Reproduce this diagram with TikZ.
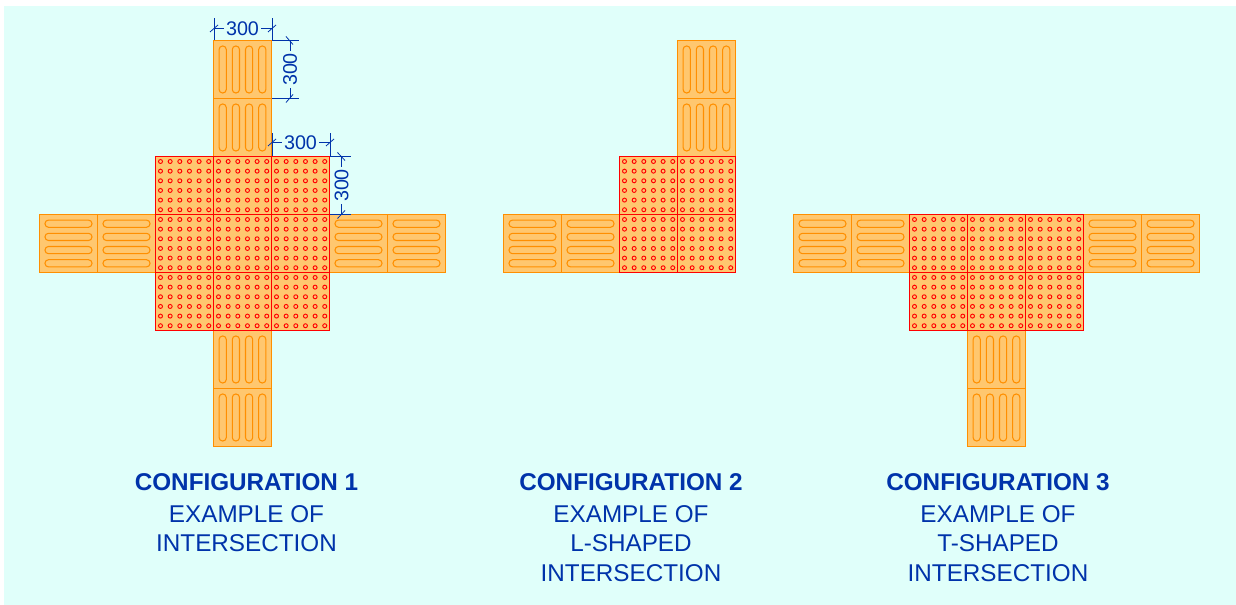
\documentclass[tikz,border=0pt]{standalone}
\usepackage{fontspec}
\setmainfont{Liberation Sans}

\definecolor{sheetcol}{HTML}{E0FFFA}
\definecolor{tilecol}{HTML}{FFC76F}
\definecolor{bandcol}{HTML}{FF8F00}
\definecolor{dotcol}{HTML}{FF0000}
\definecolor{dimcol}{HTML}{0033AA}

\tikzset{
  tilebox/.style={fill=tilecol, draw=bandcol, line width=0.75pt},
  warnbox/.style={fill=tilecol, draw=dotcol, line width=0.75pt},
  band/.style={draw=bandcol, line width=0.8pt, rounded corners=2.6pt},
  stud/.style={draw=dotcol, line width=0.7pt},
  dimline/.style={draw=dimcol, line width=0.6pt},
  dimtext/.style={text=dimcol, font=\fontsize{14.8}{16}\selectfont, inner sep=1.5pt},
  caption/.style={text=dimcol, align=center, anchor=north,
    font=\fontsize{18.2}{22}\selectfont},
  pics/hbars/.style={code={
    \draw[tilebox] (0,0) rectangle (58,58);
    \foreach \k in {9.2,22.4,35.6,48.8}
      \draw[band] (5.5,\k-3.6) rectangle (52.5,\k+3.6);
  }},
  pics/vbars/.style={code={
    \draw[tilebox] (0,0) rectangle (58,58);
    \foreach \k in {9.2,22.4,35.6,48.8}
      \draw[band] (\k-3.6,5.5) rectangle (\k+3.6,52.5);
  }},
  pics/studs/.style={code={
    \draw[warnbox] (0,0) rectangle (58,58);
    \foreach \i in {0,...,5}
      \foreach \j in {0,...,5}
        \draw[stud] (5+\i*9.65,5+\j*9.65) circle[radius=2];
  }},
}

\begin{document}
\begin{tikzpicture}[x=0.75pt, y=-0.75pt]
  \useasboundingbox (0,-0.5) rectangle (1236,604.5);
  \fill[sheetcol] (4,6) rectangle (1236,604.5);

  % configuration 1
  \foreach \px/\py in {40/214, 98/214, 330/214, 388/214}
    \pic at (\px-0.5,\py) {hbars};
  \foreach \px/\py in {214/40, 214/98, 214/330, 214/388}
    \pic at (\px-0.5,\py) {vbars};
  \foreach \px in {156,214,272}
    \foreach \py in {156,214,272}
      \pic at (\px-0.5,\py) {studs};

  % configuration 2
  \foreach \px/\py in {504/214, 562/214}
    \pic at (\px-0.5,\py) {hbars};
  \foreach \px/\py in {678/40, 678/98}
    \pic at (\px-0.5,\py) {vbars};
  \foreach \px/\py in {620/156, 678/156, 620/214, 678/214}
    \pic at (\px-0.5,\py) {studs};

  % configuration 3
  \foreach \px/\py in {794/214, 852/214, 1084/214, 1142/214}
    \pic at (\px-0.5,\py) {hbars};
  \foreach \px/\py in {968/330, 968/388}
    \pic at (\px-0.5,\py) {vbars};
  \foreach \px in {910,968,1026}
    \foreach \py in {214,272}
      \pic at (\px-0.5,\py) {studs};

  % dimensions, top tile
  \node[dimtext] (dimA) at (242.5,28) {300};
  \coordinate (dimAl) at (214,28);
  \coordinate (dimAr) at (272,28);
  \draw[dimline] (dimAl) -- (dimA);
  \draw[dimline] (dimA) -- (dimAr);
  \draw[dimline] (214,18) -- (214,40) (272,18) -- (272,40);
  \draw[dimline] (210,31.5) -- (218,24.5) (268,31.5) -- (276,24.5);

  \node[dimtext, rotate=90] (dimB) at (290,69) {300};
  \coordinate (dimBt) at (290,40);
  \coordinate (dimBb) at (290,98);
  \draw[dimline] (dimBt) -- (dimB);
  \draw[dimline] (dimB) -- (dimBb);
  \draw[dimline] (272,40) -- (299,40) (272,98) -- (299,98);
  \draw[dimline] (286,36) -- (293,44) (286,102) -- (293,94);

  % dimensions, stud tile
  \node[dimtext] (dimC) at (300.5,142) {300};
  \coordinate (dimCl) at (272,142);
  \coordinate (dimCr) at (330,142);
  \draw[dimline] (dimCl) -- (dimC);
  \draw[dimline] (dimC) -- (dimCr);
  \draw[dimline] (272,133) -- (272,156) (330,133) -- (330,156);
  \draw[dimline] (268,145.5) -- (276,138.5) (326,145.5) -- (334,138.5);

  \node[dimtext, rotate=90] (dimD) at (341.5,185) {300};
  \coordinate (dimDt) at (341.5,156);
  \coordinate (dimDb) at (341.5,214);
  \draw[dimline] (dimDt) -- (dimD);
  \draw[dimline] (dimD) -- (dimDb);
  \draw[dimline] (330,156) -- (351,156) (330,214) -- (351,214);
  \draw[dimline] (337.5,152) -- (345,160) (337.5,218) -- (345,210);

  % captions
  \node[caption] (capA) at (246.5,468.3) {\textbf{CONFIGURATION 1}\\[2pt] EXAMPLE OF\\ INTERSECTION};
  \node[caption] (capB) at (631,468.3) {\textbf{CONFIGURATION 2}\\[2pt] EXAMPLE OF\\ L-SHAPED\\ INTERSECTION};
  \node[caption] (capC) at (998,468.3) {\textbf{CONFIGURATION 3}\\[2pt] EXAMPLE OF\\ T-SHAPED\\ INTERSECTION};
\end{tikzpicture}
\end{document}
